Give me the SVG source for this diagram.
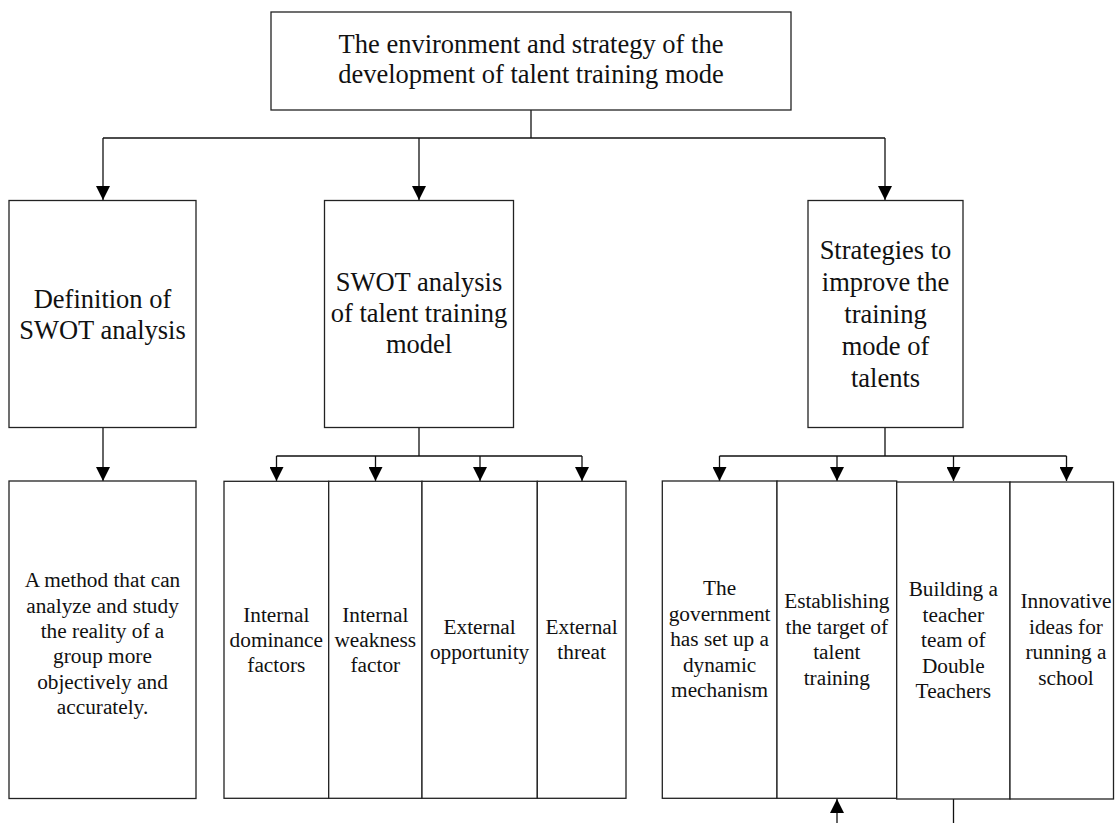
<svg xmlns="http://www.w3.org/2000/svg" width="1115" height="823" viewBox="0 0 1115 823">
<style>
.box{fill:#fff;stroke:#222;stroke-width:1.3}
.ln{fill:none;stroke:#111;stroke-width:1.3}
.t26{font-family:"Liberation Serif","Times New Roman",serif;font-size:26.5px;fill:#111;text-anchor:middle}
.t21{font-family:"Liberation Serif","Times New Roman",serif;font-size:21.3px;fill:#111;text-anchor:middle}
</style>
<defs>
<marker id="ah" markerUnits="userSpaceOnUse" markerWidth="14" markerHeight="14" viewBox="0 0 14 14" refX="14" refY="7" orient="auto">
<path d="M0,0 L14,7 L0,14 Z" fill="#000"/>
</marker>
</defs>
<rect width="1115" height="823" fill="#fff"/>
<g id="connectors">
<path class="ln" d="M531,110 V138"/>
<path class="ln" d="M103,138 H885"/>
<path class="ln" d="M103,138 V200" marker-end="url(#ah)"/>
<path class="ln" d="M419,138 V200" marker-end="url(#ah)"/>
<path class="ln" d="M885,138 V200" marker-end="url(#ah)"/>
<path class="ln" d="M103,427 V481" marker-end="url(#ah)"/>
<path class="ln" d="M419,427 V456 M276.5,456 H582"/>
<path class="ln" d="M276.5,456 V481" marker-end="url(#ah)"/>
<path class="ln" d="M375.5,456 V481" marker-end="url(#ah)"/>
<path class="ln" d="M480,456 V481" marker-end="url(#ah)"/>
<path class="ln" d="M582,456 V481" marker-end="url(#ah)"/>
<path class="ln" d="M885,427 V456 M719.5,456 H1066.5"/>
<path class="ln" d="M719.5,456 V481" marker-end="url(#ah)"/>
<path class="ln" d="M837,456 V481" marker-end="url(#ah)"/>
<path class="ln" d="M953.5,456 V481" marker-end="url(#ah)"/>
<path class="ln" d="M1066.5,456 V481" marker-end="url(#ah)"/>
<path class="ln" d="M837,823 V799" marker-end="url(#ah)"/>
<path class="ln" d="M953.5,799 V823"/>
</g>
<g id="root">
<rect class="box" x="271" y="12" width="520" height="98"/>
<text class="t26" x="531" y="53">The environment and strategy of the</text>
<text class="t26" x="531" y="83">development of talent training mode</text>
</g>
<g id="def-swot">
<rect class="box" x="9" y="200.5" width="187" height="227"/>
<text class="t26" x="102.5" y="307.5">Definition of</text>
<text class="t26" x="102.5" y="339">SWOT analysis</text>
</g>
<g id="swot-talent">
<rect class="box" x="324.5" y="200.5" width="189" height="227"/>
<text class="t26" x="419" y="291">SWOT analysis</text>
<text class="t26" x="419" y="322">of talent training</text>
<text class="t26" x="419" y="353">model</text>
</g>
<g id="strategies">
<rect class="box" x="808" y="200.5" width="155" height="227"/>
<text class="t26" x="885.5" y="259">Strategies to</text>
<text class="t26" x="885.5" y="291">improve the</text>
<text class="t26" x="885.5" y="323">training</text>
<text class="t26" x="885.5" y="355">mode of</text>
<text class="t26" x="885.5" y="387">talents</text>
</g>
<g id="method">
<rect class="box" x="9" y="481" width="187" height="317.5"/>
<text class="t21" x="102.5" y="587">A method that can</text>
<text class="t21" x="102.5" y="612.5">analyze and study</text>
<text class="t21" x="102.5" y="638">the reality of a</text>
<text class="t21" x="102.5" y="663">group more</text>
<text class="t21" x="102.5" y="688.5">objectively and</text>
<text class="t21" x="102.5" y="714">accurately.</text>
</g>
<g id="internal-dominance">
<rect class="box" x="224" y="481.3" width="104.7" height="317"/>
<text class="t21" x="276.3" y="621.5">Internal</text>
<text class="t21" x="276.3" y="646.5">dominance</text>
<text class="t21" x="276.3" y="671.5">factors</text>
</g>
<g id="internal-weakness">
<rect class="box" x="328.7" y="481.3" width="93.3" height="317"/>
<text class="t21" x="375.3" y="621.5">Internal</text>
<text class="t21" x="375.3" y="646.5">weakness</text>
<text class="t21" x="375.3" y="671.5">factor</text>
</g>
<g id="external-opportunity">
<rect class="box" x="422" y="481.3" width="115.3" height="317"/>
<text class="t21" x="479.6" y="633.5">External</text>
<text class="t21" x="479.6" y="658.5">opportunity</text>
</g>
<g id="external-threat">
<rect class="box" x="537.3" y="481.3" width="88.7" height="317"/>
<text class="t21" x="581.6" y="633.5">External</text>
<text class="t21" x="581.6" y="658.5">threat</text>
</g>
<g id="government">
<rect class="box" x="662.3" y="481" width="114.7" height="317.3"/>
<text class="t21" x="719.6" y="595">The</text>
<text class="t21" x="719.6" y="620.5">government</text>
<text class="t21" x="719.6" y="646">has set up a</text>
<text class="t21" x="719.6" y="671.5">dynamic</text>
<text class="t21" x="719.6" y="697">mechanism</text>
</g>
<g id="target">
<rect class="box" x="777" y="481" width="119.7" height="317.3"/>
<text class="t21" x="836.8" y="608">Establishing</text>
<text class="t21" x="836.8" y="633.5">the target of</text>
<text class="t21" x="836.8" y="659">talent</text>
<text class="t21" x="836.8" y="684.5">training</text>
</g>
<g id="double-teachers">
<rect class="box" x="896.7" y="482" width="113.3" height="317"/>
<text class="t21" x="953.3" y="596">Building a</text>
<text class="t21" x="953.3" y="621.5">teacher</text>
<text class="t21" x="953.3" y="647">team of</text>
<text class="t21" x="953.3" y="672.5">Double</text>
<text class="t21" x="953.3" y="698">Teachers</text>
</g>
<g id="innovative">
<rect class="box" x="1010" y="482" width="103.5" height="317"/>
<text class="t21" x="1066" y="608">Innovative</text>
<text class="t21" x="1066" y="633.5">ideas for</text>
<text class="t21" x="1066" y="659">running a</text>
<text class="t21" x="1066" y="684.5">school</text>
</g>
</svg>
